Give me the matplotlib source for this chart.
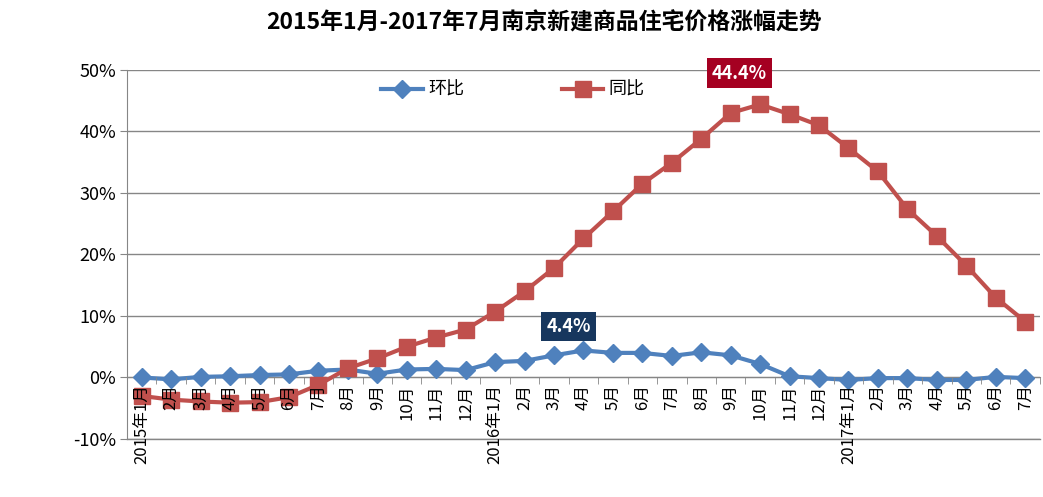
import matplotlib
matplotlib.use("Agg")
import matplotlib.pyplot as plt
from matplotlib.ticker import FuncFormatter, FixedLocator

plt.rcParams['font.family'] = ['Noto Sans CJK SC', 'DejaVu Sans']

# 月份标签 2015年1月 - 2017年7月
months = ["2015年1月", "2月", "3月", "4月", "5月", "6月", "7月", "8月", "9月", "10月", "11月", "12月",
          "2016年1月", "2月", "3月", "4月", "5月", "6月", "7月", "8月", "9月", "10月", "11月", "12月",
          "2017年1月", "2月", "3月", "4月", "5月", "6月", "7月"]

# 环比 (%)
huanbi = [0.0, -0.3, 0.1, 0.2, 0.4, 0.5, 1.1, 1.3, 0.6, 1.3, 1.4, 1.2,
          2.5, 2.7, 3.6, 4.4, 4.0, 4.0, 3.5, 4.1, 3.6, 2.2, 0.2, -0.1,
          -0.4, -0.1, -0.1, -0.4, -0.4, 0.1, -0.1]

# 同比 (%)
tongbi = [-3.0, -3.6, -3.9, -4.1, -4.0, -3.2, -1.2, 1.5, 3.1, 5.0, 6.5, 7.8,
          10.7, 14.0, 17.8, 22.6, 27.0, 31.5, 34.9, 38.8, 43.0, 44.4, 42.8, 41.0,
          37.3, 33.5, 27.4, 23.0, 18.2, 13.0, 9.1]

blue = "#4F81BD"
red = "#C0504D"
grid_c = "#868686"

fig = plt.figure(figsize=(10.43, 4.97), dpi=100)
ax = fig.add_axes([0.1218, 0.1167, 0.8752, 0.7425])

x = list(range(len(months)))
ax.plot(x, huanbi, color=blue, lw=3, marker="D", ms=9, label="环比", zorder=3)
ax.plot(x, tongbi, color=red, lw=3, marker="s", ms=11, label="同比", zorder=3)

# spine 位置要先设，否则会重置刻度
for s in ["top", "right"]:
    ax.spines[s].set_visible(False)
ax.spines["left"].set_color(grid_c)
ax.spines["bottom"].set_color(grid_c)
ax.spines["bottom"].set_position(("data", 0))

ax.set_xlim(-0.5, len(months) - 0.5)
ax.set_ylim(-10, 50)
ax.set_yticks(range(-10, 51, 10))
ax.yaxis.set_major_formatter(FuncFormatter(lambda v, p: f"{int(v)}%"))
ax.tick_params(axis="y", labelsize=13, length=5, color=grid_c, pad=3)
ax.grid(axis="y", color=grid_c, lw=1)
ax.axhline(-10, color=grid_c, lw=1, clip_on=False)
ax.set_axisbelow(True)

ax.set_xticks(x)
ax.set_xticklabels(months, rotation=90, fontsize=12, va="top", ha="center")
ax.xaxis.set_minor_locator(FixedLocator([i - 0.5 for i in range(len(months) + 1)]))
ax.tick_params(axis="x", which="major", length=0, pad=5)
ax.tick_params(axis="x", which="minor", length=5, color=grid_c)
ax.xaxis.set_zorder(4)  # 月份文字压在方块上面

# 标注最大值
ax.text(20.3, 49.5, "44.4%", color="white", fontsize=13, fontweight="bold",
        ha="center", va="center",
        bbox=dict(boxstyle="square,pad=0.3", fc="#A50021", ec="none"))
ax.text(14.5, 8.3, "4.4%", color="white", fontsize=13, fontweight="bold",
        ha="center", va="center",
        bbox=dict(boxstyle="square,pad=0.3", fc="#17375E", ec="none"))

fig.legend(loc="center", bbox_to_anchor=(0.492, 0.819), ncol=2, frameon=False,
           fontsize=13, handlelength=2.3, columnspacing=5.4, handletextpad=0.3)

fig.text(0.522, 0.953, "2015年1月-2017年7月南京新建商品住宅价格涨幅走势",
         ha="center", va="center", fontsize=16.5, fontweight="bold")

fig.savefig("out.png", dpi=100)
